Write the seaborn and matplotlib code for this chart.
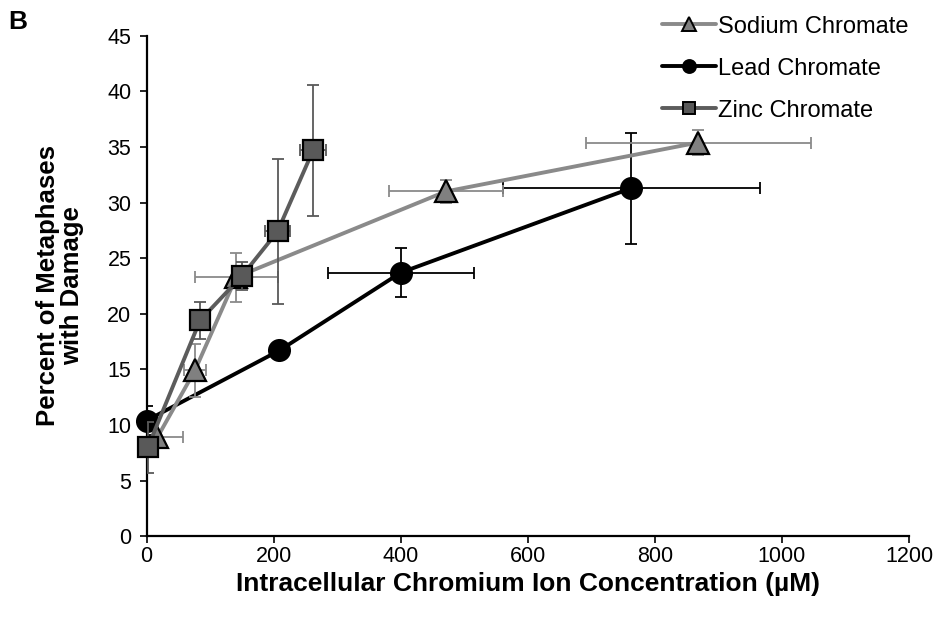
import matplotlib
matplotlib.use("Agg")
import matplotlib.pyplot as plt
import seaborn as sns
import pandas as pd
import numpy as np

# ---- data ----
series_names = ["Sodium Chromate", "Lead Chromate", "Zinc Chromate"]

sodium_x = [17, 76, 141, 471, 868]
sodium_y = [8.9, 14.9, 23.3, 31.0, 35.4]
sodium_xerr = [40, 17, 65, 90, 177]
sodium_yerr = [0.0, 2.4, 2.2, 1.0, 1.1]

lead_x = [0, 209, 400, 763]
lead_y = [10.4, 16.7, 23.7, 31.3]
lead_xerr = [0, 0, 115, 202]
lead_yerr = [1.3, 0.0, 2.2, 5.0]

zinc_x = [2, 84, 150, 206, 262]
zinc_y = [8.0, 19.4, 23.4, 27.4, 34.7]
zinc_xerr = [0, 5, 4, 20, 20]
zinc_yerr = [2.3, 1.7, 1.3, 6.5, 5.9]

x_ticks = [0, 200, 400, 600, 800, 1000, 1200]
y_ticks = [0, 5, 10, 15, 20, 25, 30, 35, 40, 45]

# ---- styling ----
sns.set_theme(style="ticks")
plt.rcParams["font.family"] = ["Liberation Sans", "DejaVu Sans"]
plt.rcParams["text.color"] = "black"

fig = plt.figure(figsize=(9.4, 6.17), dpi=100)
ax = fig.add_axes([0.156, 0.131, 0.811, 0.811])

styles = {
    "Sodium Chromate": dict(line="#8a8a8a", face="#808080", ecol="#8a8a8a", marker="^", ms=16, z=3),
    "Lead Chromate": dict(line="#000000", face="#000000", ecol="#000000", marker="o", ms=15, z=2),
    "Zinc Chromate": dict(line="#5c5c5c", face="#595959", ecol="#595959", marker="s", ms=14, z=4),
}
data = {
    "Sodium Chromate": (sodium_x, sodium_y, sodium_xerr, sodium_yerr),
    "Lead Chromate": (lead_x, lead_y, lead_xerr, lead_yerr),
    "Zinc Chromate": (zinc_x, zinc_y, zinc_xerr, zinc_yerr),
}

handles = {}
for name in series_names:
    x, y, xe, ye = data[name]
    st = styles[name]
    df = pd.DataFrame({"x": x, "y": y})
    ax.errorbar(x, y, xerr=xe, yerr=ye, fmt="none", ecolor=st["ecol"],
                elinewidth=1.3, capsize=4.5, capthick=1.3, zorder=st["z"])
    n_before = len(ax.lines)
    sns.lineplot(data=df, x="x", y="y", ax=ax, sort=False, color=st["line"],
                 linewidth=2.8, marker=st["marker"], markersize=st["ms"],
                 markerfacecolor=st["face"], markeredgecolor="black",
                 markeredgewidth=1.6, zorder=st["z"] + 0.5)
    for ln in ax.lines[n_before:]:
        ln.set_clip_on(False)
    handles[name] = plt.Line2D([], [], color=st["line"], linewidth=2.8,
                               marker=st["marker"],
                               markersize=st["ms"] * 0.62,
                               markerfacecolor=st["face"], markeredgecolor="black",
                               markeredgewidth=1.4)

ax.set_xlim(0, 1200)
ax.set_ylim(0, 45)
ax.set_xticks(x_ticks)
ax.set_yticks(y_ticks)
ax.tick_params(axis="both", labelsize=15.5, length=5, width=1.2, color="black",
               labelcolor="black", direction="out")
ax.tick_params(axis="y", pad=6)
ax.tick_params(axis="x", pad=2)
for s in ["left", "bottom"]:
    ax.spines[s].set_color("black")
    ax.spines[s].set_linewidth(1.6)
sns.despine(ax=ax)

ax.set_xlabel("Intracellular Chromium Ion Concentration (µM)", fontsize=19,
              fontweight="bold", color="black", labelpad=4)
ax.set_ylabel("Percent of Metaphases\nwith Damage", fontsize=18.5,
              fontweight="bold", color="black", labelpad=17, linespacing=1.0)

leg = ax.legend([handles[n] for n in series_names], series_names,
                loc="upper left", bbox_to_anchor=(0.694, 0.99), bbox_transform=fig.transFigure,
                frameon=False, fontsize=17, handlelength=2.3, handletextpad=0.1,
                labelspacing=0.85, borderaxespad=0.0)
for t in leg.get_texts():
    t.set_color("black")

fig.text(0.009, 0.953, "B", fontsize=19, fontweight="bold", color="black")

fig.savefig("out.png", dpi=100)
